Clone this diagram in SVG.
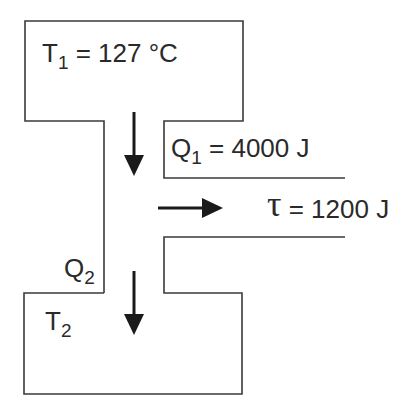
<svg xmlns="http://www.w3.org/2000/svg" width="405" height="406" viewBox="0 0 405 406">
<style>
.wall{fill:none;stroke:#3a3a3a;stroke-width:1.6;stroke-linejoin:miter}
.lbl{font-family:"Liberation Sans",Arial,sans-serif;font-size:26px;fill:#2a2a2a}
.sub{font-size:19px}
.shaft{stroke:#1a1a1a;stroke-width:3}
</style>
<defs>
<marker id="ah" markerWidth="22" markerHeight="22" refX="0" refY="0" viewBox="0 -10 22 20" markerUnits="userSpaceOnUse" orient="auto">
<path d="M0,-10 L21,0 L0,10 Z" fill="#1a1a1a"/>
</marker>
</defs>
<rect width="405" height="406" fill="#fff"/>
<g id="reservoir">
<path class="wall" d="M104,293 L104,121 L25,121 L25,21 L243,21 L243,121 L164,121 L164,178 L345,178"/>
<path class="wall" d="M345,237 L164,237 L164,293 L242,293 L242,394 L24,394 L24,293 L104,293"/>
</g>
<g id="connectors">
<line class="shaft" x1="134" y1="112" x2="134" y2="155" marker-end="url(#ah)"/>
<line class="shaft" x1="134" y1="271" x2="134" y2="314" marker-end="url(#ah)"/>
<line class="shaft" x1="158" y1="208" x2="202" y2="208" marker-end="url(#ah)"/>
</g>
<g id="t1"><text class="lbl" x="42" y="62">T<tspan class="sub" dy="7">1</tspan><tspan dy="-7"> = 127 °C</tspan></text></g>
<g id="q1"><text class="lbl" x="171" y="157">Q<tspan class="sub" dy="7">1</tspan><tspan dy="-7"> = 4000 J</tspan></text></g>
<g id="tau"><text class="lbl" x="267" y="216"><tspan style="font-family:'Liberation Serif',serif;font-size:36px">τ</tspan><tspan dy="2"> = 1200 J</tspan></text></g>
<g id="q2"><text class="lbl" x="64" y="277">Q<tspan class="sub" dy="7">2</tspan></text></g>
<g id="t2"><text class="lbl" x="45" y="330">T<tspan class="sub" dy="7">2</tspan></text></g>
</svg>
